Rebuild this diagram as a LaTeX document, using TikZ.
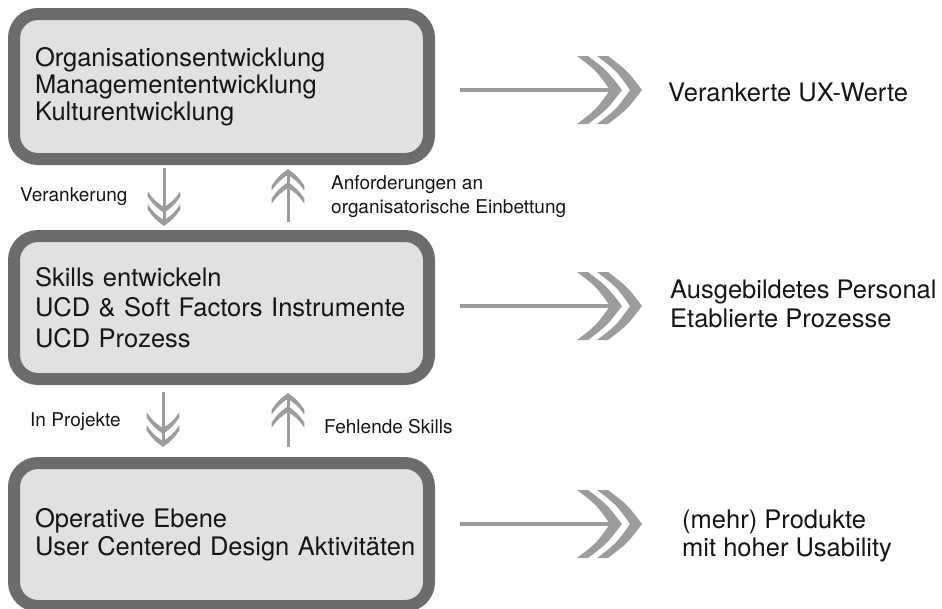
\documentclass[tikz,border=0pt]{standalone}
\usepackage{fontspec}
\setmainfont{TeX Gyre Heros}
\definecolor{boxborder}{HTML}{6C6C6C}
\definecolor{boxfill}{HTML}{E1E1E1}
\definecolor{arrowgray}{HTML}{9C9C9C}
\definecolor{ink}{HTML}{151515}
\newcommand\SmallTxt{\fontsize{19}{24}\selectfont}
\begin{document}
\begin{tikzpicture}[x=1pt,y=-1pt,
  box/.style={draw=boxborder, fill=boxfill, line width=12pt, rounded corners=24pt,
    text width=373pt, inner xsep=21pt, inner ysep=0pt, align=left, text=ink},
  lbl/.style={anchor=west, inner sep=0pt, align=left, text=ink, font=\SmallTxt},
  rtxt/.style={anchor=west, inner sep=0pt, align=left, text=ink},
  hshaft/.style={draw=arrowgray, line width=4.5pt},
  vshaft/.style={draw=arrowgray, line width=3pt},
  chev/.pic={\fill[arrowgray] (-34,-34) .. controls (-14.7,-19.3) .. (0,0)
      .. controls (-14.7,19.3) .. (-34,34) -- (-45,34)
      .. controls (-25.7,19.3) .. (-12,0)
      .. controls (-25.7,-19.3) .. (-45,-34) -- cycle;}
]
\useasboundingbox (0,0) rectangle (942,608);

% boxes
\node[box, minimum height=145pt, font=\fontsize{25.5}{27}\selectfont] (b1) at (221.5,86.5)
  {\mbox{Organisationsentwicklung}\\\mbox{Managemententwicklung}\\\mbox{Kulturentwicklung}};
\node[box, minimum height=143pt, font=\fontsize{25.5}{30.5}\selectfont] (b2) at (221.5,307.5)
  {\mbox{Skills entwickeln}\\\mbox{UCD \& Soft Factors Instrumente}\\\mbox{UCD Prozess}};
\node[box, minimum height=143pt, font=\fontsize{25.5}{28}\selectfont] (b3) at (221.5,534.5)
  {\mbox{Operative Ebene}\\\mbox{User Centered Design Aktivitäten}};

% right texts
\node[rtxt, font=\fontsize{25.5}{29}\selectfont] (r1) at (668,92) {Verankerte UX-Werte};
\node[rtxt, font=\fontsize{25.5}{29}\selectfont] (r2) at (670,304) {Ausgebildetes Personal\\Etablierte Prozesse};
\node[rtxt, font=\fontsize{25.5}{28}\selectfont] (r3) at (682,536) {(mehr) Produkte\\mit hoher Usability};

% labels between boxes
\node[lbl] (l1) at (20,197) {Verankerung};
\node[lbl] (l2) at (331,197) {Anforderungen an\\organisatorische Einbettung};
\node[lbl] (l3) at (30,422) {In Projekte};
\node[lbl] (l4) at (324,427) {Fehlende Skills};

% right arrows
\foreach \yy/\n in {90/1,306/2,524/3}{
  \coordinate (h\n s) at (460,\yy);
  \coordinate (h\n e) at (620,\yy);
  \draw[hshaft] (h\n s) -- (h\n e);
  \pic at ([xshift=2pt]h\n e) {chev};
  \pic at ([xshift=22pt]h\n e) {chev};
}

% vertical arrows
\coordinate (d1s) at (164,168); \coordinate (d1e) at (164,224);
\draw[vshaft] (d1s) -- (d1e);
\pic[rotate=-90,scale=0.48] at (164,226) {chev};
\pic[rotate=-90,scale=0.48] at (164,213) {chev};

\coordinate (u1s) at (288,222); \coordinate (u1e) at (288,171);
\draw[vshaft] (u1s) -- (u1e);
\pic[rotate=90,scale=0.48] at (288,169) {chev};
\pic[rotate=90,scale=0.48] at (288,182) {chev};

\coordinate (d2s) at (163,392); \coordinate (d2e) at (163,445);
\draw[vshaft] (d2s) -- (d2e);
\pic[rotate=-90,scale=0.48] at (163,447) {chev};
\pic[rotate=-90,scale=0.48] at (163,434) {chev};

\coordinate (u2s) at (288,447); \coordinate (u2e) at (288,395);
\draw[vshaft] (u2s) -- (u2e);
\pic[rotate=90,scale=0.48] at (288,393) {chev};
\pic[rotate=90,scale=0.48] at (288,406) {chev};
\end{tikzpicture}
\end{document}
